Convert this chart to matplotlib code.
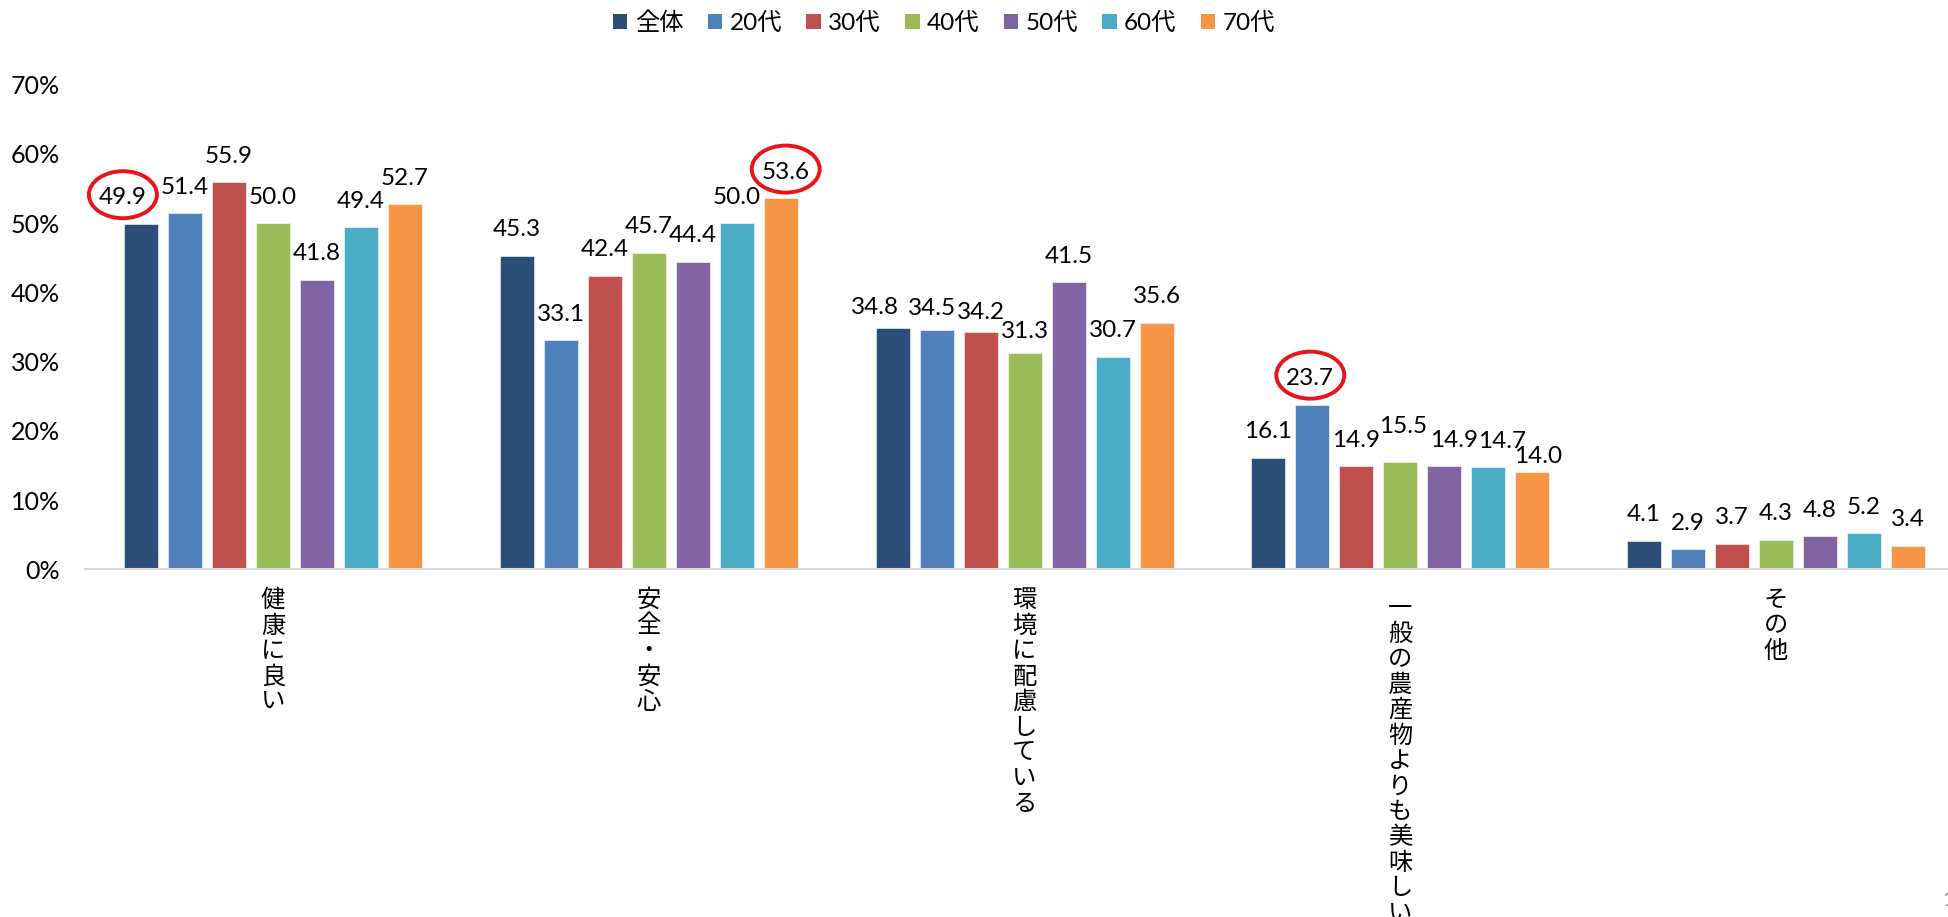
import matplotlib
matplotlib.use("Agg")
import matplotlib.pyplot as plt
from matplotlib import transforms
from matplotlib.patches import Ellipse, Patch

plt.rcParams['font.family'] = ['Lato', 'Noto Sans CJK JP']

# 購入理由 (複数回答, %)
categories = ["健康に良い", "安全・安心", "環境に配慮している",
              "一般の農産物よりも美味しい", "その他"]
ages = ["全体", "20代", "30代", "40代", "50代", "60代", "70代"]
colors = ["#2C4D75", "#4F81BD", "#C0504D", "#9BBB59",
          "#8064A2", "#4BACC6", "#F79646"]

zentai = [49.9, 45.3, 34.8, 16.1, 4.1]
age20 = [51.4, 33.1, 34.5, 23.7, 2.9]
age30 = [55.9, 42.4, 34.2, 14.9, 3.7]
age40 = [50.0, 45.7, 31.3, 15.5, 4.3]
age50 = [41.8, 44.4, 41.5, 14.9, 4.8]
age60 = [49.4, 50.0, 30.7, 14.7, 5.2]
age70 = [52.7, 53.6, 35.6, 14.0, 3.4]
series = [zentai, age20, age30, age40, age50, age60, age70]

yticks = [0, 10, 20, 30, 40, 50, 60, 70]

# labels that sit off their default spot, (category, series): (dx, dy) in px
label_nudge = {
    (0, 0): (-18, 28),
    (1, 6): (5, 28),
    (2, 0): (-18, 23), (2, 1): (-5, 24), (2, 2): (0, 22), (2, 3): (0, 23),
    (2, 4): (0, 27),
    (3, 1): (-2, 29), (3, 3): (3, 37), (3, 4): (10, 28), (3, 5): (14, 28),
    (3, 6): (6, 18),
}
circled = [(0, 0), (1, 6), (3, 1)]

W, H = 1948, 917
fig = plt.figure(figsize=(W / 100, H / 100), dpi=100)
ax = fig.add_axes([85 / W, 1 - 569.3 / H, 1879 / W, 484.8 / H])
ax.set_xlim(-0.5, len(categories) - 0.5)
ax.set_ylim(0, 70)

px_cat = 1879 / len(categories)   # pixels per category
px_pct = 484.8 / 70                # pixels per percent
pitch = 44 / px_cat
width = 34 / px_cat

for j, (vals, c) in enumerate(zip(series, colors)):
    xs = [i + (j - 3) * pitch for i in range(len(categories))]
    ax.bar(xs, vals, width=width, color=c, edgecolor='white', linewidth=0.4)
    for i, (x, v) in enumerate(zip(xs, vals)):
        dx, dy = label_nudge.get((i, j), (0, 28))
        tr = transforms.offset_copy(ax.transData, fig=fig, x=dx, y=dy, units='dots')
        ax.text(x, v, f"{v:.1f}", transform=tr, ha='center', va='center_baseline',
                fontsize=17.5, color='black', clip_on=False)
        if (i, j) in circled:
            ell = Ellipse((x + dx / px_cat, v + (dy + 1) / px_pct),
                          68 / px_cat, 47 / px_pct, fill=False,
                          edgecolor='#E8141A', linewidth=2.8, clip_on=False)
            ax.add_patch(ell)

# vertical category names, one character per line
trans = transforms.blended_transform_factory(ax.transData, fig.transFigure)
for i, name in enumerate(categories):
    top = 608 if name.startswith("一") else 600
    for k, ch in enumerate(name):
        ax.text(i, 1 - (top + 25.5 * k) / H, ch, transform=trans,
                ha='center', va='center', fontsize=17.5,
                family='Noto Sans CJK JP', clip_on=False)

ax.set_yticks(yticks)
ax.set_yticklabels([f"{t}%" for t in yticks])
ax.tick_params(axis='y', length=0, pad=18, labelsize=18)
ax.set_xticks([])
for s in ['left', 'top', 'right']:
    ax.spines[s].set_visible(False)
ax.spines['bottom'].set_color('#D9D9D9')
ax.spines['bottom'].set_linewidth(1.5)

handles = [Patch(facecolor=c, label=a) for a, c in zip(ages, colors)]
fig.legend(handles=handles, loc='center', bbox_to_anchor=(944 / W, 1 - 23 / H),
           ncol=7, frameon=False, handlelength=0.6, handleheight=0.6,
           handletextpad=0.3, columnspacing=1.0, borderpad=0, borderaxespad=0,
           prop={'size': 17.5})

fig.text(1942 / W, 1 - 900 / H, "1", color='#8c8c8c', fontsize=15,
         ha='left', va='center')

fig.savefig("out.png", dpi=100)
